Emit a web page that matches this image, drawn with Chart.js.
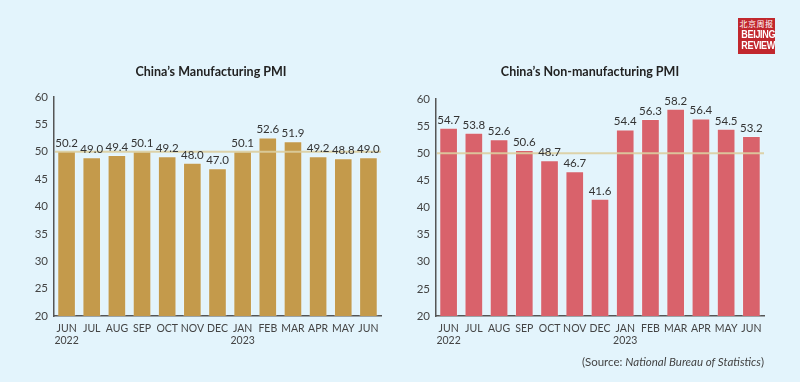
<!DOCTYPE html>
<html>
<head>
<meta charset="utf-8">
<script src="https://cdn.jsdelivr.net/npm/chart.js@4"></script>
<style>
  body { margin: 0; background: #e3f4fc; }
  #wrap { position: relative; width: 800px; height: 382px; background: #e3f4fc; overflow: hidden; font-family: Lato, "Open Sans", sans-serif; }
  canvas { position: absolute; top: 0; }
  .title { position: absolute; top: 64px; font-weight: bold; font-size: 12.5px; color: #222; text-align: center; width: 300px; }
  #source { position: absolute; right: 36px; top: 355px; font-size: 11.5px; color: #444; }
  #logo { position: absolute; left: 738px; top: 18px; width: 37px; height: 36px; background: #c1272d; color: #fff; text-align: center; line-height: 1; }
  #logo .cn { font-family: "Noto Sans CJK SC", sans-serif; font-size: 8px; margin-top: 2px; margin-bottom: 1px; letter-spacing: 0.5px; }
  #logo .en { font-family: "Liberation Sans Narrow", "Liberation Sans", sans-serif; font-weight: bold; font-size: 11px; letter-spacing: -0.4px; transform: scaleX(0.82); }
</style>
</head>
<body>
<div id="wrap">
  <canvas id="mfg" width="400" height="382" style="left:0"></canvas>
  <canvas id="nonmfg" width="400" height="382" style="left:400px"></canvas>
  <div class="title" style="left:61px">China’s Manufacturing PMI</div>
  <div class="title" style="left:440px">China’s Non-manufacturing PMI</div>
  <div id="source">(Source: <i>National Bureau of Statistics</i>)</div>
  <div id="logo"><div class="cn">北京周报</div><div class="en">BEIJING</div><div class="en">REVIEW</div></div>
</div>
<script>
const months = [['JUN', '2022'], 'JUL', 'AUG', 'SEP', 'OCT', 'NOV', 'DEC', ['JAN', '2023'], 'FEB', 'MAR', 'APR', 'MAY', 'JUN'];
const manufacturing = [50.2, 49.0, 49.4, 50.1, 49.2, 48.0, 47.0, 50.1, 52.6, 51.9, 49.2, 48.8, 49.0];
const nonManufacturing = [54.7, 53.8, 52.6, 50.6, 48.7, 46.7, 41.6, 54.4, 56.3, 58.2, 56.4, 54.5, 53.2];
const yTicks = [20, 25, 30, 35, 40, 45, 50, 55, 60];
const threshold = 50;

// value labels above the bars and the 50 line on top
const pmiPlugin = {
    id: 'pmi',
    afterDatasetsDraw(chart) {
        const ctx = chart.ctx;
        const y = chart.scales.y;
        const area = chart.chartArea;
        const yy = y.getPixelForValue(threshold);
        ctx.save();
        ctx.strokeStyle = 'rgba(220, 206, 160, 0.9)';
        ctx.lineWidth = 2;
        ctx.beginPath();
        ctx.moveTo(area.left + 1, yy);
        ctx.lineTo(area.right, yy);
        ctx.stroke();

        ctx.fillStyle = '#333';
        ctx.font = '11.5px Lato, sans-serif';
        ctx.textAlign = 'center';
        ctx.textBaseline = 'bottom';
        const meta = chart.getDatasetMeta(0);
        meta.data.forEach((bar, i) => {
            const v = chart.data.datasets[0].data[i];
            ctx.fillText(v.toFixed(1), bar.x, bar.y - 2);
        });
        ctx.restore();
    }
};

function makeChart(id, values, color, pad) {
    return new Chart(document.getElementById(id), {
        type: 'bar',
        data: {
            labels: months,
            datasets: [{
                data: values,
                backgroundColor: color,
                borderColor: 'rgba(255,255,255,0.25)',
                borderWidth: 1,
                categoryPercentage: 1,
                barPercentage: 0.74
            }]
        },
        options: {
            responsive: false,
            animation: false,
            layout: { padding: { top: pad.top, right: pad.right, left: 0, bottom: 0 } },
            plugins: { legend: { display: false }, tooltip: { enabled: false } },
            scales: {
                x: {
                    grid: { display: false, drawTicks: false },
                    border: { color: '#555', width: 1.5 },
                    ticks: { color: '#444', font: { family: 'Lato', size: 10.5 }, padding: 6, maxRotation: 0, autoSkip: false },
                    afterFit(s) { s.height = 382 - pad.bottom; }
                },
                y: {
                    min: 20,
                    max: 60,
                    afterBuildTicks(s) { s.ticks = yTicks.map(v => ({ value: v })); },
                    grid: { display: false, drawTicks: false },
                    border: { color: '#555', width: 1.5 },
                    ticks: { color: '#444', font: { family: 'Lato', size: 11.5 }, padding: 6 },
                    afterFit(s) { s.width = pad.left; }
                }
            }
        },
        plugins: [pmiPlugin]
    });
}

makeChart('mfg', manufacturing, '#c49a4b', { top: 97, right: 19, left: 54, bottom: 316 });
makeChart('nonmfg', nonManufacturing, '#d9626b', { top: 99, right: 36, left: 36, bottom: 316 });
</script>
</body>
</html>
